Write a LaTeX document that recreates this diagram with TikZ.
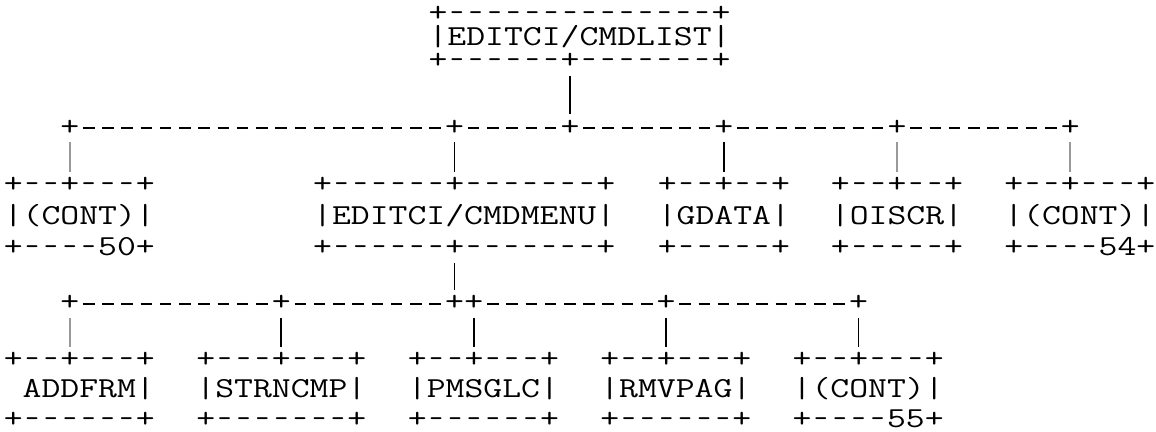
\documentclass[tikz,border=0pt]{standalone}
\usepackage{graphicx}
\usepackage{fontspec}
\setmonofont[FakeStretch=1.2637]{Latin Modern Mono}
\usetikzlibrary{positioning}

% typewriter text, fixed line pitch
\newcommand\asciifont[1]{\fontsize{14.5}{#1}\selectfont\ttfamily\lineskiplimit=-\maxdimen}
% short dash in a full column, n of them
\newcommand\hy{\makebox[\fontcharwd\font`\-]{\scalebox{0.72}[1]{-}}}
\newcommand\hys[1]{\foreach\k in {1,...,#1}{\hy}}
% same height and depth for every border line
\newcommand\edge{\rule[-3pt]{0pt}{13pt}}

\begin{document}
\begin{tikzpicture}[x=9.62pt,y=-0.5pt,
  tbox/.style={font=\asciifont{#1},align=center,inner sep=0pt,outer sep=0pt},
  hub/.style={font=\asciifont{14.5pt},inner sep=0pt,outer sep=0pt,
    text height=10pt,text depth=3pt},
  hbar/.style={line width=1pt,dash pattern=on 5.77pt off 3.85pt,
    shorten <=1.92pt,shorten >=1.92pt},
  vbar/.style={line width=0.9pt,shorten <=0.5pt,shorten >=0.5pt},
  faint/.style={black!40}]
\useasboundingbox (-0.6237,0) rectangle (59.4595,432);
%
\node[tbox=11.75pt] (cmdlist) at (29.5,38.5)
  {\edge+\hys{14}+\\|EDITCI/CMDLIST|\\\edge+\hys{6}+\hys{7}+};
%
\node[tbox=15.75pt] (cont50) at (3.5,217.5)
  {\edge+\hys{2}+\hys{3}+\\|(CONT)|\\\edge+\hys{4}50+};
\node[tbox=15.75pt] (cmdmenu) at (23.5,217.5)
  {\edge+\hys{6}+\hys{7}+\\|EDITCI/CMDMENU|\\\edge+\hys{6}+\hys{7}+};
\node[tbox=15.75pt] (gdata) at (37,217.5)
  {\edge+\hys{2}+\hys{2}+\\|GDATA|\\\edge+\hys{5}+};
\node[tbox=15.75pt] (oiscr) at (46,217.5)
  {\edge+\hys{2}+\hys{2}+\\|OISCR|\\\edge+\hys{5}+};
\node[tbox=15.75pt] (cont54) at (55.5,217.5)
  {\edge+\hys{2}+\hys{3}+\\|(CONT)|\\\edge+\hys{4}54+};
%
\node[tbox=15pt] (addfrm) at (3.5,391)
  {\edge+\hys{2}+\hys{3}+\\\phantom{|}ADDFRM|\\\edge+\hys{6}+};
\node[tbox=15pt] (strncmp) at (14,391)
  {\edge+\hys{3}+\hys{3}+\\|STRNCMP|\\\edge+\hys{7}+};
\node[tbox=15pt] (pmsglc) at (24.5,391)
  {\edge+\hys{2}+\hys{3}+\\|PMSGLC|\\\edge+\hys{6}+};
\node[tbox=15pt] (rmvpag) at (34.5,391)
  {\edge+\hys{2}+\hys{3}+\\|RMVPAG|\\\edge+\hys{6}+};
\node[tbox=15pt] (cont55) at (44.5,391)
  {\edge+\hys{2}+\hys{3}+\\|(CONT)|\\\edge+\hys{4}55+};
%
% branch lines
\foreach \x in {3,23,29,37,46,55} \node[hub] (a\x) at (\x,128.5) {+};
\foreach \x in {3,14,23,24,34,44} \node[hub] (b\x) at (\x,304) {+};
\foreach \x/\y in {3/23,23/29,29/37,37/46,46/55} \draw[hbar] (a\x) -- (a\y);
\foreach \x/\y in {3/14,14/23,24/34,34/44} \draw[hbar] (b\x) -- (b\y);
%
\draw[vbar] (a29 |- cmdlist.south) -- (a29);
\foreach \x/\n/\s in {3/cont50/faint,23/cmdmenu/solid,37/gdata/solid,
  46/oiscr/faint,55/cont54/faint}
  \draw[vbar,\s] (a\x) -- (a\x |- \n.north);
\draw[vbar] (b23 |- cmdmenu.south) -- (b23);
\foreach \x/\n/\s in {3/addfrm/faint,14/strncmp/solid,24/pmsglc/solid,
  34/rmvpag/solid,44/cont55/solid}
  \draw[vbar,\s] (b\x) -- (b\x |- \n.north);
%
\end{tikzpicture}
\end{document}
